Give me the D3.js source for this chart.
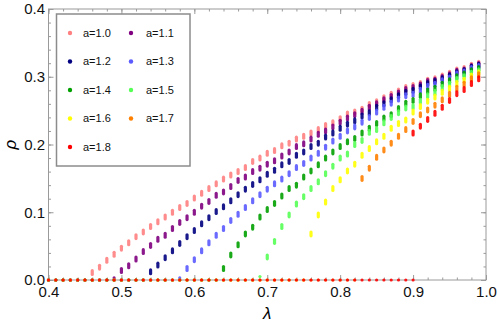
<!DOCTYPE html>
<html>
<head>
<meta charset="UTF-8">
<title>rho vs lambda</title>
<script src="https://cdn.jsdelivr.net/npm/d3@7"></script>
<style>
  body { margin: 0; background: #fff; }
  text { font-family: "Liberation Sans", Arial, sans-serif; }
</style>
</head>
<body>
<svg id="chart" width="498" height="325"></svg>
<script>
// lambda grid used for every series
var lambda = [0.40,0.41,0.42,0.43,0.44,0.45,0.46,0.47,0.48,0.49,
              0.50,0.51,0.52,0.53,0.54,0.55,0.56,0.57,0.58,0.59,
              0.60,0.61,0.62,0.63,0.64,0.65,0.66,0.67,0.68,0.69,
              0.70,0.71,0.72,0.73,0.74,0.75,0.76,0.77,0.78,0.79,
              0.80,0.81,0.82,0.83,0.84,0.85,0.86,0.87,0.88,0.89,
              0.90,0.91,0.92,0.93,0.94,0.95,0.96,0.97,0.98,0.99];

var aLabels = ["a=1.0","a=1.1","a=1.2","a=1.3","a=1.4","a=1.5","a=1.6","a=1.7","a=1.8"];
var colors  = ["#ff8080","#800080","#000080","#5a5aff","#00a000","#55ff55","#ffff00","#ff8000","#ff0000"];

var rho10 = [0,0,0,0,0,0,
  0.011,0.019,0.029,0.038,0.047,0.055,0.064,0.071,0.079,0.086,
  0.093,0.100,0.107,0.113,0.121,0.128,0.135,0.142,0.149,0.155,
  0.160,0.166,0.175,0.180,0.187,0.191,0.198,0.202,0.208,0.212,
  0.217,0.222,0.228,0.232,0.238,0.245,0.248,0.252,0.259,0.263,
  0.269,0.274,0.279,0.284,0.287,0.290,0.295,0.297,0.301,0.305,
  0.310,0.312,0.317,0.320];
var rho11 = [0,0,0,0,0,0,0,0,0,
  0.003,
  0.014,0.021,0.031,0.042,0.051,0.060,0.066,0.076,0.085,0.092,
  0.100,0.109,0.116,0.125,0.130,0.138,0.147,0.152,0.160,0.165,
  0.171,0.176,0.183,0.189,0.197,0.201,0.208,0.215,0.220,0.226,
  0.233,0.239,0.244,0.249,0.255,0.260,0.266,0.271,0.276,0.281,
  0.284,0.288,0.293,0.295,0.299,0.303,0.308,0.310,0.315,0.318];
var rho12 = [0,0,0,0,0,0,0,0,0,0,0,0,0,0,
  0.012,0.022,0.033,0.043,0.054,0.064,
  0.073,0.083,0.092,0.101,0.108,0.117,0.126,0.134,0.141,0.148,
  0.156,0.162,0.170,0.175,0.184,0.189,0.197,0.202,0.211,0.217,
  0.224,0.230,0.235,0.242,0.247,0.255,0.260,0.266,0.272,0.277,
  0.280,0.285,0.290,0.293,0.297,0.301,0.306,0.309,0.314,0.317];
var rho13 = [0,0,0,0,0,0,0,0,0,0,0,0,0,0,0,0,0,0,
  0.003,0.017,
  0.030,0.043,0.055,0.066,0.076,0.088,0.097,0.107,0.117,0.126,
  0.134,0.142,0.149,0.157,0.166,0.172,0.180,0.187,0.196,0.205,
  0.212,0.220,0.226,0.233,0.240,0.248,0.255,0.261,0.267,0.272,
  0.274,0.280,0.286,0.289,0.294,0.298,0.304,0.307,0.312,0.315];
var rho14 = [0,0,0,0,0,0,0,0,0,0,0,0,0,0,0,0,0,0,0,0,0,0,0,0,
  0.017,0.037,0.052,0.068,0.078,0.093,
  0.104,0.113,0.124,0.135,0.140,0.152,0.161,0.170,0.180,0.189,
  0.197,0.204,0.209,0.217,0.224,0.231,0.239,0.244,0.253,0.261,
  0.265,0.272,0.279,0.283,0.289,0.294,0.300,0.304,0.309,0.312];
var rho15 = [0,0,0,0,0,0,0,0,0,0,0,0,0,0,0,0,0,0,0,0,0,0,0,0,0,0,0,0,0,
  0.005,
  0.034,0.057,0.079,0.096,0.112,0.123,0.135,0.145,0.157,0.168,
  0.180,0.186,0.200,0.206,0.218,0.222,0.232,0.240,0.247,0.254,
  0.256,0.264,0.272,0.277,0.284,0.289,0.296,0.300,0.305,0.309];
var rho16 = [0,0,0,0,0,0,0,0,0,0,0,0,0,0,0,0,0,0,0,0,0,0,0,0,0,0,0,0,0,0,0,0,0,0,0,0,
  0.068,0.096,0.115,0.135,
  0.148,0.161,0.171,0.184,0.194,0.204,0.212,0.224,0.231,0.236,
  0.248,0.256,0.264,0.270,0.277,0.283,0.290,0.295,0.301,0.306];
var rho17 = [0,0,0,0,0,0,0,0,0,0,0,0,0,0,0,0,0,0,0,0,0,0,0,0,0,0,0,0,0,0,0,0,0,0,0,0,0,0,0,0,0,0,0,
  0.150,0.165,0.181,0.192,0.202,0.212,0.222,
  0.234,0.244,0.251,0.258,0.266,0.274,0.283,0.289,0.297,0.303];
var rho18 = [0,0,0,0,0,0,0,0,0,0,0,0,0,0,0,0,0,0,0,0,0,0,0,0,0,0,0,0,0,0,0,0,0,0,0,0,0,0,0,0,0,0,0,0,0,0,0,0,0,0,
  0.217,0.227,0.237,0.246,0.255,0.265,0.275,0.281,0.290,0.297];
// a=1.8 also has runs that stay at zero here
var lambda18Zero = [0.90];

var xTicks = [0.4,0.5,0.6,0.7,0.8,0.9,1.0];
var yTicks = [0.0,0.1,0.2,0.3,0.4];

var allRho = [rho10,rho11,rho12,rho13,rho14,rho15,rho16,rho17,rho18];

var svg = d3.select("#chart");
var plotLeft = 48.5, plotRight = 486, plotTop = 9, plotBottom = 280;

var x = d3.scaleLinear().domain([0.4, 1.0]).range([plotLeft, plotRight]);
var y = d3.scaleLinear().domain([0, 0.4]).range([plotBottom, plotTop]);

var minorX = d3.range(0.4, 1.0001, 0.02);
var minorY = d3.range(0, 0.4001, 0.02);

var frameColor = "#9a9a9a";

function styleAxis(g) {
    g.select(".domain").remove();
    g.selectAll(".tick line").attr("stroke", frameColor);
    g.selectAll(".tick text").attr("fill", "#111").style("font-size", "15px")
        .style("font-family", "'Liberation Sans', Arial, sans-serif");
}

// minor ticks on all four sides
svg.append("g").attr("transform", "translate(0," + plotBottom + ")")
    .call(d3.axisBottom(x).tickValues(minorX).tickSize(-2.5).tickFormat(""))
    .call(styleAxis);
svg.append("g").attr("transform", "translate(0," + plotTop + ")")
    .call(d3.axisTop(x).tickValues(minorX).tickSize(-2.5).tickFormat(""))
    .call(styleAxis);
svg.append("g").attr("transform", "translate(" + plotLeft + ",0)")
    .call(d3.axisLeft(y).tickValues(minorY).tickSize(-2.5).tickFormat(""))
    .call(styleAxis);
svg.append("g").attr("transform", "translate(" + plotRight + ",0)")
    .call(d3.axisRight(y).tickValues(minorY).tickSize(-2.5).tickFormat(""))
    .call(styleAxis);

// major ticks
svg.append("g").attr("transform", "translate(0," + plotBottom + ")")
    .call(d3.axisBottom(x).tickValues(xTicks).tickSize(-5).tickPadding(6).tickFormat(d3.format(".1f")))
    .call(styleAxis);
svg.append("g").attr("transform", "translate(0," + plotTop + ")")
    .call(d3.axisTop(x).tickValues(xTicks).tickSize(-5).tickFormat(""))
    .call(styleAxis);
svg.append("g").attr("transform", "translate(" + plotLeft + ",0)")
    .call(d3.axisLeft(y).tickValues(yTicks).tickSize(-5).tickPadding(3.5).tickFormat(d3.format(".1f")))
    .call(styleAxis);
svg.append("g").attr("transform", "translate(" + plotRight + ",0)")
    .call(d3.axisRight(y).tickValues(yTicks).tickSize(-5).tickFormat(""))
    .call(styleAxis);

// frame
svg.append("rect")
    .attr("x", plotLeft).attr("y", plotTop)
    .attr("width", plotRight - plotLeft).attr("height", plotBottom - plotTop)
    .attr("fill", "none").attr("stroke", frameColor).attr("stroke-width", 1);

// points: each lambda is a short vertical streak of overlapping samples
allRho.forEach(function (rho, si) {
    var pts = rho.map(function (v, i) { return {l: lambda[i], r: v}; });
    if (si === 8) {
        lambda18Zero.forEach(function (l) { pts.push({l: l, r: 0}); });
    }
    var g = svg.append("g").attr("fill", colors[si]).attr("fill-opacity", 0.9);
    g.selectAll("rect").data(pts.filter(function (d) { return d.r > 0.008; }))
        .enter().append("rect")
        .attr("x", function (d) { return x(d.l) - 1.6; })
        .attr("y", function (d) { return y(d.r) - 3.5; })
        .attr("width", 3.2).attr("height", 7).attr("rx", 1.6);
    g.selectAll("circle").data(pts.filter(function (d) { return d.r <= 0.008; }))
        .enter().append("circle")
        .attr("cx", function (d) { return x(d.l); })
        .attr("cy", function (d) { return y(d.r); })
        .attr("r", 1.6);
});

// axis labels
svg.append("text")
    .attr("transform", "translate(16," + ((plotTop + plotBottom) / 2) + ") rotate(-90)")
    .attr("text-anchor", "middle")
    .style("font-size", "17px").style("font-style", "italic")
    .text("ρ");
svg.append("text")
    .attr("x", (plotLeft + plotRight) / 2).attr("y", 319)
    .attr("text-anchor", "middle")
    .style("font-size", "17px").style("font-style", "italic")
    .text("λ");

// legend
var legend = svg.append("g");
legend.append("rect")
    .attr("x", 56.5).attr("y", 14).attr("width", 133.5).attr("height", 152)
    .attr("fill", "#fff").attr("stroke", "#8c8c8c").attr("stroke-width", 1.5);

var entry = legend.selectAll("g.entry").data(aLabels).enter().append("g")
    .attr("class", "entry")
    .attr("transform", function (d, i) {
        return "translate(" + (i % 2 === 0 ? 70 : 131) + "," + (33 + Math.floor(i / 2) * 28.5) + ")";
    });
entry.append("circle").attr("r", 2.2).attr("fill", function (d, i) { return colors[i]; });
entry.append("text")
    .attr("x", function (d, i) { return i % 2 === 0 ? 13 : 15; })
    .attr("dy", "0.36em")
    .style("font-size", "11px").attr("fill", "#111")
    .text(function (d) { return d; });
</script>
</body>
</html>
